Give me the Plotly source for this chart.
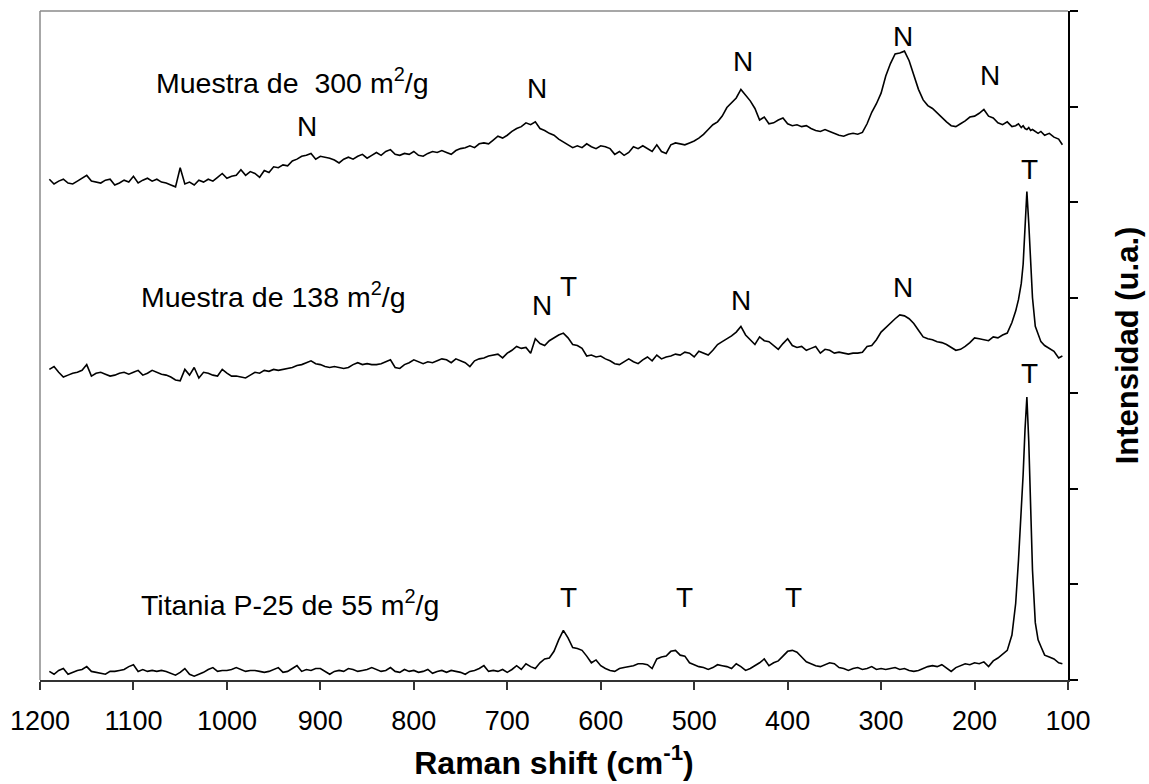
import plotly.graph_objects as go

# Raman shift grid (cm^-1), sampled every 5 cm^-1 and more finely across the 144 cm^-1 band
raman_shift = [
    1190, 1185, 1180, 1175, 1170, 1165, 1160, 1155, 1150, 1145,
    1140, 1135, 1130, 1125, 1120, 1115, 1110, 1105, 1100, 1095,
    1090, 1085, 1080, 1075, 1070, 1065, 1060, 1055, 1050, 1045,
    1040, 1035, 1030, 1025, 1020, 1015, 1010, 1005, 1000, 995,
    990, 985, 980, 975, 970, 965, 960, 955, 950, 945,
    940, 935, 930, 925, 920, 915, 910, 905, 900, 895,
    890, 885, 880, 875, 870, 865, 860, 855, 850, 845,
    840, 835, 830, 825, 820, 815, 810, 805, 800, 795,
    790, 785, 780, 775, 770, 765, 760, 755, 750, 745,
    740, 735, 730, 725, 720, 715, 710, 705, 700, 695,
    690, 685, 680, 675, 670, 665, 660, 655, 650, 645,
    640, 635, 630, 625, 620, 615, 610, 605, 600, 595,
    590, 585, 580, 575, 570, 565, 560, 555, 550, 545,
    540, 535, 530, 525, 520, 515, 510, 505, 500, 495,
    490, 485, 480, 475, 470, 465, 460, 455, 450, 445,
    440, 435, 430, 425, 420, 415, 410, 405, 400, 395,
    390, 385, 380, 375, 370, 365, 360, 355, 350, 345,
    340, 335, 330, 325, 320, 315, 310, 305, 300, 295,
    290, 285, 280, 275, 270, 265, 260, 255, 250, 245,
    240, 235, 230, 225, 220, 215, 210, 205, 200, 195,
    190, 185, 180, 175, 170, 165, 160, 156, 153, 150,
    148, 146, 144, 142, 140, 138, 135, 132, 129, 125,
    120, 115, 110, 106,
]

# Intensities (u.a.), spectra stacked with a vertical offset
muestra_300 = [
    524, 519, 522, 524, 520, 519, 522, 525, 528, 522,
    521, 520, 523, 524, 518, 520, 523, 521, 527, 520,
    523, 525, 522, 524, 521, 520, 518, 516, 536, 519,
    521, 518, 523, 521, 524, 522, 526, 530, 525, 527,
    528, 534, 528, 532, 530, 526, 533, 531, 537, 536,
    539, 538, 543, 545, 548, 549, 551, 545, 548, 547,
    546, 544, 541, 545, 547, 545, 548, 550, 546, 549,
    552, 549, 553, 555, 550, 549, 551, 550, 553, 549,
    548, 551, 553, 552, 554, 552, 550, 554, 556, 557,
    559, 557, 561, 562, 561, 565, 569, 567, 570, 574,
    577, 579, 583, 581, 584, 577, 575, 572, 570, 566,
    563, 560, 557, 559, 557, 561, 558, 556, 559, 558,
    556, 550, 553, 549, 552, 558, 556, 559, 556, 553,
    560, 553, 551, 560, 562, 561, 560, 562, 564, 567,
    571, 576, 581, 584, 590, 599, 604, 609, 618, 612,
    606, 598, 586, 589, 582, 583, 586, 588, 582, 580,
    581, 579, 580, 577, 575, 574, 576, 574, 572, 570,
    569, 571, 572, 571, 573, 582, 594, 603, 614, 632,
    645, 655, 656, 658, 648, 632, 618, 607, 601, 598,
    593, 588, 584, 580, 579, 582, 585, 589, 590, 593,
    597, 590, 588, 583, 581, 584, 579, 580, 582, 578,
    580, 577, 576, 578, 575, 576, 574, 572, 574, 570,
    572, 568, 566, 560,
]

muestra_138 = [
    325, 328, 322, 317, 319, 321, 322, 324, 330, 318,
    321, 322, 320, 318, 319, 321, 322, 320, 322, 324,
    319, 321, 324, 322, 320, 319, 317, 314, 313, 325,
    319, 327, 316, 322, 321, 319, 318, 325, 321, 318,
    318, 317, 316, 319, 322, 321, 324, 323, 325, 324,
    325, 326, 327, 329, 330, 332, 334, 331, 330, 328,
    327, 328, 327, 326, 327, 330, 332, 330, 331, 330,
    330, 331, 333, 335, 327, 326, 330, 332, 335, 333,
    331, 333, 332, 334, 336, 335, 332, 336, 334, 332,
    328, 334, 336, 337, 339, 340, 341, 337, 342, 345,
    349, 347, 348, 342, 357, 352, 350, 355, 358, 361,
    363, 358, 351, 350, 347, 339, 340, 338, 339, 336,
    334, 331, 330, 333, 336, 333, 331, 335, 338, 334,
    340, 336, 338, 339, 341, 340, 343, 342, 338, 344,
    342, 340, 345, 351, 354, 357, 360, 364, 370, 361,
    356, 351, 359, 355, 354, 350, 346, 352, 357, 350,
    348, 349, 345, 347, 349, 342, 346, 345, 342, 343,
    342, 341, 342, 342, 343, 349, 350, 356, 364, 369,
    373, 378, 382, 381, 378, 373, 366, 359, 357, 356,
    354, 353, 351, 348, 345, 346, 349, 353, 358, 357,
    356, 355, 359, 358, 361, 363, 374, 386, 398, 415,
    435, 470, 511, 478, 440, 400, 370, 362, 354, 350,
    347, 344, 337, 339,
]

titania_p25 = [
    9, 6, 10, 12, 6, 8, 10, 11, 14, 9,
    8, 7, 6, 9, 9, 10, 11, 14, 16, 9,
    11, 9, 10, 9, 10, 9, 7, 5, 8, 12,
    6, 4, 6, 8, 11, 13, 9, 10, 10, 11,
    13, 11, 9, 10, 10, 9, 8, 9, 11, 13,
    8, 9, 12, 15, 9, 11, 10, 12, 12, 9,
    6, 9, 10, 9, 12, 11, 9, 10, 11, 13,
    11, 9, 10, 13, 9, 8, 11, 9, 10, 8,
    9, 11, 7, 9, 10, 8, 10, 9, 8, 6,
    9, 10, 12, 15, 9, 10, 9, 11, 8, 11,
    15, 11, 17, 14, 12, 18, 22, 23, 30, 42,
    52, 44, 34, 33, 31, 25, 18, 21, 15, 12,
    10, 9, 12, 13, 14, 15, 17, 17, 16, 12,
    22, 24, 25, 30, 31, 26, 25, 18, 16, 14,
    13, 11, 13, 16, 15, 14, 12, 17, 14, 10,
    12, 15, 18, 22, 15, 18, 20, 25, 30, 31,
    29, 24, 19, 17, 15, 14, 16, 18, 17, 13,
    12, 10, 12, 13, 11, 12, 14, 11, 12, 11,
    12, 13, 11, 12, 10, 9, 10, 12, 14, 15,
    14, 16, 12, 9, 13, 15, 17, 16, 18, 17,
    19, 14, 20, 23, 27, 31, 47, 80, 125, 175,
    215, 262, 296, 250, 180, 115, 60, 42, 35, 26,
    24, 22, 18, 17,
]

# Sample labels: text, left edge (cm^-1), vertical position (u.a.)
sample_text = ["Muestra de \u00a0300 m<sup>2</sup>/g",
               "Muestra de 138 m<sup>2</sup>/g",
               "Titania P-25 de 55 m<sup>2</sup>/g"]
sample_x = [1078, 1094, 1094]
sample_y = [627, 403, 81]

# Band assignments (N / T): text, centre (cm^-1), vertical position (u.a.)
band_text = ["N", "N", "N", "N", "N",
             "N", "T", "N", "N", "T",
             "T", "T", "T", "T"]
band_x = [914, 668, 448, 277, 184,
          663, 635, 450, 277, 141,
          635, 510, 394, 141]
band_y = [579, 619, 647, 673, 632,
          392, 412, 397, 411, 534,
          86, 86, 86, 321]

x_ticks = [1200, 1100, 1000, 900, 800, 700, 600, 500, 400, 300, 200, 100]

FONT = "Arial, 'Liberation Sans', sans-serif"

fig = go.Figure()
for series in (muestra_300, muestra_138, titania_p25):
    fig.add_trace(go.Scatter(
        x=raman_shift, y=series, mode="lines",
        line=dict(color="black", width=1.6),
        showlegend=False, hoverinfo="skip",
    ))

for t, x, y in zip(sample_text, sample_x, sample_y):
    fig.add_annotation(x=x, y=y, text=t, showarrow=False,
                       xanchor="left", yanchor="middle",
                       font=dict(family=FONT, size=28.5, color="black"))

for t, x, y in zip(band_text, band_x, band_y):
    fig.add_annotation(x=x, y=y, text=t, showarrow=False,
                       xanchor="center", yanchor="middle",
                       font=dict(family=FONT, size=28, color="black"))

# Grey frame on the top and left sides of the plotting area
fig.add_shape(type="line", xref="paper", yref="paper", x0=0, x1=1, y0=1, y1=1,
              line=dict(color="#8a8a8a", width=1.5))
fig.add_shape(type="line", xref="paper", yref="paper", x0=0, x1=0, y0=0, y1=1,
              line=dict(color="#8a8a8a", width=1.5))

fig.update_layout(
    width=1149, height=784,
    margin=dict(l=40, r=81, t=11, b=104),
    paper_bgcolor="white", plot_bgcolor="white",
    font=dict(family=FONT, color="black"),
    xaxis=dict(
        range=[1200, 100], tickmode="array", tickvals=x_ticks,
        ticktext=[str(v) for v in x_ticks],
        showgrid=False, zeroline=False,
        showline=True, linecolor="#333333", linewidth=1.5,
        ticks="outside", ticklen=8, tickwidth=1.5, tickcolor="#333333",
        tickfont=dict(family=FONT, size=27, color="black"),
        ticklabelstandoff=8,
        title=dict(text="<b>Raman shift (cm<sup>-1</sup>)</b>",
                   font=dict(family=FONT, size=32, color="black"), standoff=16),
        automargin=False,
    ),
    yaxis=dict(
        range=[0, 700], side="right", dtick=100, tick0=0,
        showgrid=False, zeroline=False, showticklabels=False,
        showline=True, linecolor="black", linewidth=1.5,
        ticks="outside", ticklen=8, tickwidth=1.5, tickcolor="black",
        title=dict(text="<b>Intensidad (u.a.)</b>",
                   font=dict(family=FONT, size=31, color="black"), standoff=40),
        automargin=False,
    ),
)

fig.write_html("out.html")
